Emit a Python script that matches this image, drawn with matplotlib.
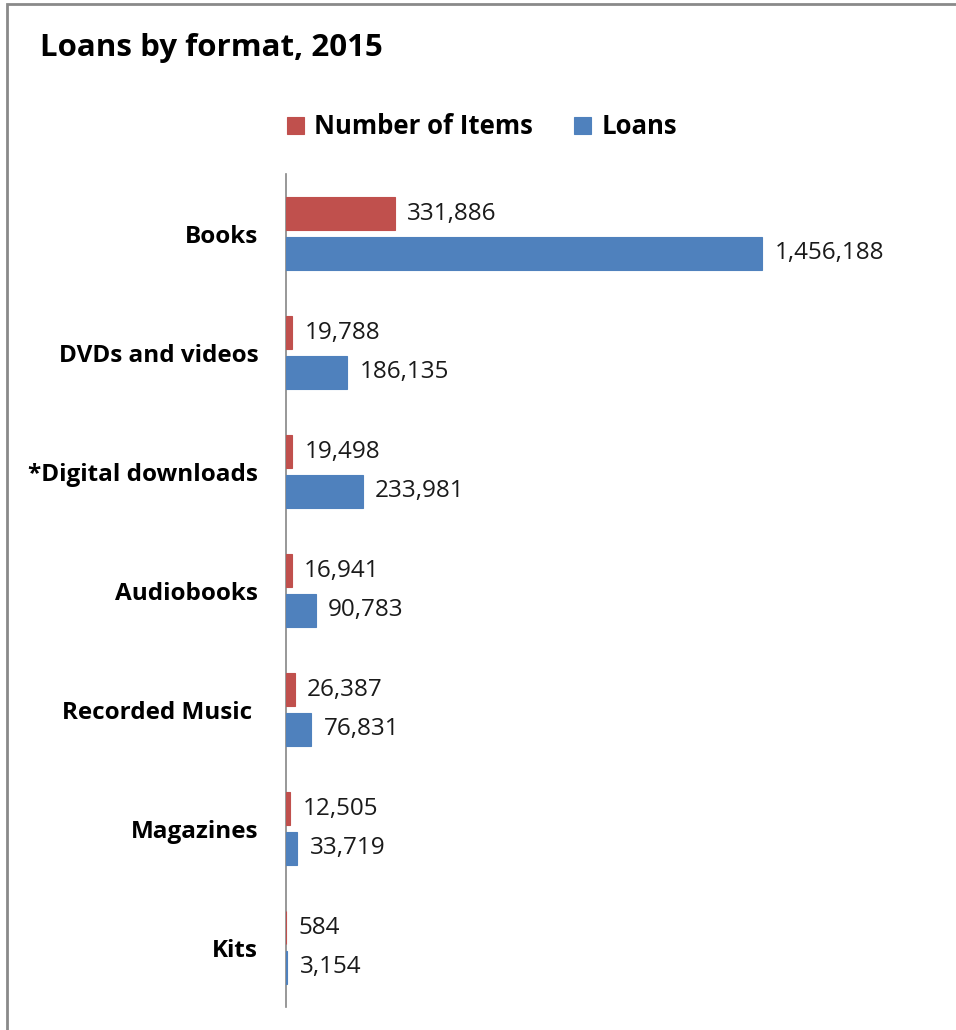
import numpy as np
import matplotlib.pyplot as plt
from matplotlib.patches import Rectangle

categories = ["Books", "DVDs and videos", "*Digital downloads", "Audiobooks",
              "Recorded Music ", "Magazines", "Kits"]
items = [331886, 19788, 19498, 16941, 26387, 12505, 584]
loans = [1456188, 186135, 233981, 90783, 76831, 33719, 3154]

RED = "#C0504D"
BLUE = "#4F81BD"

plt.rcParams["font.family"] = ["Open Sans", "DejaVu Sans"]

fig = plt.figure(figsize=(9.56, 10.30), dpi=100)
ax = fig.add_axes([286 / 956, 23 / 1030, 654 / 956, 833 / 1030])

y = np.arange(len(categories))
h = 0.28
off = 0.168
ax.barh(y - off, items, height=h, color=RED, edgecolor=RED, linewidth=0.8,
        label="Number of Items", zorder=3)
ax.barh(y + off, loans, height=h, color=BLUE, edgecolor=BLUE, linewidth=0.8,
        label="Loans", zorder=3)

# value labels just past the end of each bar
for yi, v in zip(y - off, items):
    ax.annotate(f"{v:,}", (v, yi), xytext=(9, 0), textcoords="offset points",
                va="center", ha="left", fontsize=17.5, color="#1a1a1a")
for yi, v in zip(y + off, loans):
    ax.annotate(f"{v:,}", (v, yi), xytext=(9, 0), textcoords="offset points",
                va="center", ha="left", fontsize=17.5, color="#1a1a1a")

ax.set_xlim(0, 2000000)
ax.set_ylim(len(categories) - 0.5, -0.5)
ax.set_yticks(y)
ax.set_yticklabels(categories, fontsize=17.5, fontweight="bold")
ax.tick_params(axis="y", length=0, pad=20)
ax.set_xticks([])
for s in ["top", "right", "bottom"]:
    ax.spines[s].set_visible(False)
ax.spines["left"].set_color("#868686")
ax.spines["left"].set_linewidth(1.2)

fig.text(40 / 956, 1 - 48 / 1030, "Loans by format, 2015", fontsize=22.5,
         fontweight="bold", va="center", ha="left")

leg = fig.legend(loc="center", bbox_to_anchor=(482 / 956, 1 - 127 / 1030),
                 ncol=2, frameon=False, fontsize=18.5, handlelength=0.65,
                 handleheight=0.65, handletextpad=0.4, columnspacing=1.6)
for t in leg.get_texts():
    t.set_fontweight("bold")

# chart frame, running off the right and bottom edges
fig.patches.append(Rectangle((7 / 956, -0.05), 1.2, 1.05 - 4 / 1030,
                             transform=fig.transFigure, fill=False,
                             edgecolor="#8a8a8a", linewidth=2))

fig.savefig("out.png", dpi=100)
